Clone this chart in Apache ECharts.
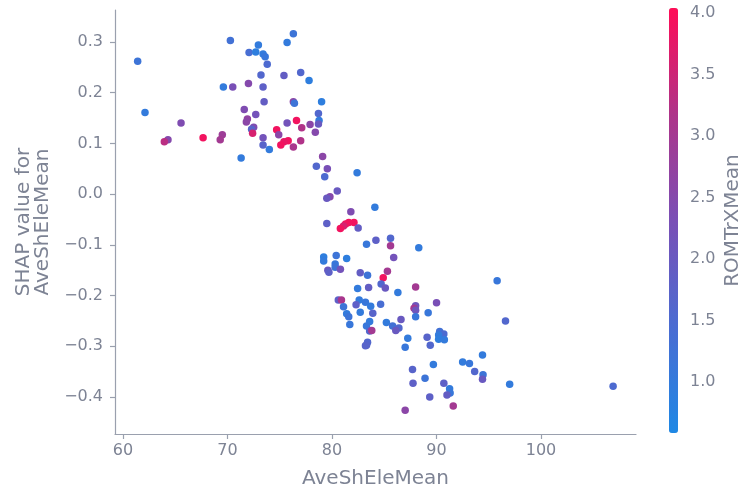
<!DOCTYPE html>
<html><head><meta charset="utf-8">
<script src="https://cdn.jsdelivr.net/npm/echarts@6/dist/echarts.min.js"></script>
<style>html,body{margin:0;padding:0;background:#fff}#c{width:740px;height:491px}</style>
</head><body><div id="c"></div>
<script>
// Feature value (x), SHAP value (y), colour feature value (ROMTrXMean)
const aveShEleMean = [70.27,61.4,69.6,70.5,62.1,71.6,65.55,64.3,63.95,67.66,69.5,69.3,
76.3,75.7,72.95,72.06,72.7,73.4,73.6,73.8,73.2,75.4,77.0,77.8,72.0,73.4,73.5,76.3,76.4,79.0,78.7,72.7,71.9,71.8,78.76,78.7,76.6,75.7,77.1,77.9,72.5,72.3,74.7,72.4,78.4,74.9,73.4,75.8,75.4,75.1,77.0,76.3,73.4,74.0,79.1,71.3,
78.5,79.55,79.3,82.4,80.5,79.8,79.5,84.1,81.8,79.5,82.1,81.6,81.3,81.1,80.8,82.5,83.3,84.2,85.6,85.6,79.2,80.4,81.4,85.9,
79.2,80.3,80.3,79.6,79.7,80.8,82.7,83.4,85.3,84.9,84.7,85.1,82.45,83.5,86.3,80.6,80.9,81.1,82.6,83.2,82.3,83.7,84.65,81.4,81.6,82.7,83.9,81.7,83.6,83.3,83.6,83.8,85.2,85.8,86.6,86.4,86.1,83.4,83.3,83.2,87.25,87.0,
88.3,95.8,88.0,88.0,87.85,88.0,90.0,89.2,88.0,96.6,
89.1,89.4,90.3,90.7,90.2,90.2,90.75,94.4,89.7,92.5,93.15,93.65,94.45,94.4,87.7,87.75,88.9,90.7,91.25,91.3,91.0,89.35,87.0,91.6,
97.0,106.9];
const shapValues = [0.303,0.262,0.211,0.211,0.161,0.167,0.140,0.107,0.103,0.111,0.117,0.107,
0.316,0.299,0.294,0.279,0.280,0.276,0.271,0.256,0.235,0.234,0.240,0.224,0.218,0.211,0.182,0.182,0.179,0.182,0.159,0.157,0.148,0.142,0.145,0.138,0.145,0.140,0.131,0.137,0.132,0.128,0.127,0.120,0.122,0.117,0.111,0.105,0.103,0.097,0.105,0.093,0.097,0.088,0.074,0.071,
0.055,0.050,0.034,0.042,0.006,-0.005,-0.008,-0.026,-0.035,-0.058,-0.056,-0.056,-0.059,-0.063,-0.068,-0.067,-0.099,-0.091,-0.087,-0.102,-0.124,-0.121,-0.127,-0.125,
-0.132,-0.138,-0.144,-0.150,-0.154,-0.148,-0.155,-0.160,-0.152,-0.165,-0.177,-0.185,-0.186,-0.184,-0.194,-0.209,-0.209,-0.222,-0.209,-0.213,-0.218,-0.221,-0.217,-0.236,-0.242,-0.233,-0.235,-0.257,-0.251,-0.260,-0.270,-0.269,-0.253,-0.260,-0.247,-0.264,-0.269,-0.292,-0.298,-0.299,-0.284,-0.302,
-0.106,-0.171,-0.183,-0.220,-0.225,-0.229,-0.214,-0.234,-0.242,-0.250,
-0.282,-0.298,-0.271,-0.276,-0.278,-0.286,-0.287,-0.317,-0.336,-0.331,-0.334,-0.350,-0.356,-0.365,-0.346,-0.373,-0.363,-0.373,-0.384,-0.392,-0.396,-0.400,-0.426,-0.418,
-0.375,-0.379];
const romTrXMean = [1.3,1.2,1.0,2.3,1.0,2.4,2.4,2.5,3.3,3.9,2.9,3.0,
1.2,1.0,1.0,1.4,0.9,1.0,1.1,1.5,1.6,1.9,1.6,0.9,2.5,1.8,1.9,2.6,1.2,0.9,1.6,2.2,2.7,2.6,1.0,2.0,3.9,2.2,3.2,2.6,2.4,1.7,3.9,3.6,2.5,2.6,2.2,3.9,3.8,3.9,3.2,3.1,1.7,1.0,2.6,1.0,
1.6,2.3,1.5,1.0,2.0,2.5,2.0,1.0,2.4,1.8,3.9,3.9,3.9,3.6,3.9,1.9,1.1,1.8,1.6,3.0,0.9,1.2,0.9,2.2,
1.0,1.1,1.2,2.0,1.8,2.2,1.9,1.2,3.0,3.9,1.6,2.0,1.0,1.9,1.0,1.8,3.1,1.2,1.0,1.1,1.8,1.0,1.4,1.0,1.2,1.0,1.7,1.1,1.0,1.1,1.6,3.0,1.0,1.3,2.0,1.6,2.0,1.6,1.7,1.7,1.0,1.1,
1.0,1.1,3.0,2.1,3.0,2.1,2.3,1.1,1.1,1.6,
1.7,1.6,1.3,1.5,1.0,0.9,1.0,1.0,1.0,1.0,1.1,1.6,1.2,2.0,1.7,1.8,1.2,1.8,1.0,1.1,1.9,1.8,2.6,3.0,
1.0,1.5];
const xTicks = [60,70,80,90,100];
const yTicks = [-0.4,-0.3,-0.2,-0.1,0.0,0.1,0.2,0.3];
const cTicks = [1.0,1.5,2.0,2.5,3.0,3.5,4.0];
const xTitle = 'AveShEleMean';
const yTitle = 'SHAP value for\nAveShEleMean';
const cTitle = 'ROMTrXMean';

const points = aveShEleMean.map((x,i)=>[x, shapValues[i], romTrXMean[i]]);
const FONT = 'DejaVu Sans';
const LABEL = '#7d8394';
const AXIS = '#9aa0ae';
const fmt = v => (Math.abs(v)<1e-9 ? '0.0' : v.toFixed(1).replace('-', '\u2212'));

const chart = echarts.init(document.getElementById('c'), null, {renderer:'canvas'});
chart.setOption({
  animation:false,
  backgroundColor:'#fff',
  textStyle:{fontFamily:FONT},
  grid:[
    {left:115, top:10, right:104, bottom:57, containLabel:false, outerBoundsMode:'none'},
    {left:669, top:8, width:9, height:425, containLabel:false, outerBoundsMode:'none'}
  ],
  xAxis:[
    {type:'value', gridIndex:0, min:59.23, max:109.09,
     name:xTitle, nameLocation:'middle', nameGap:35,
     nameTextStyle:{fontSize:20, color:LABEL, fontFamily:FONT},
     axisLine:{show:true, onZero:false, lineStyle:{color:AXIS, width:1.2}},
     axisTick:{show:true, length:5, customValues:xTicks, lineStyle:{color:AXIS, width:1.2}},
     axisLabel:{customValues:xTicks, color:LABEL, fontSize:16, margin:9, fontFamily:FONT},
     splitLine:{show:false}},
    {type:'value', gridIndex:1, min:0, max:1, show:false}
  ],
  yAxis:[
    {type:'value', gridIndex:0, min:-0.473, max:0.363,
     name:yTitle, nameLocation:'middle', nameGap:45, nameRotate:90,
     nameTextStyle:{fontSize:20, color:LABEL, fontFamily:FONT, lineHeight:19},
     axisLine:{show:true, onZero:false, lineStyle:{color:AXIS, width:1.2}},
     axisTick:{show:true, length:5, customValues:yTicks, lineStyle:{color:AXIS, width:1.2}},
     axisLabel:{customValues:yTicks, formatter:fmt, color:LABEL, fontSize:16, margin:12, fontFamily:FONT},
     splitLine:{show:false}},
    {type:'value', gridIndex:1, position:'right', min:0.585, max:4.04,
     name:cTitle, nameLocation:'middle', nameGap:45, nameRotate:90,
     nameTextStyle:{fontSize:20, color:LABEL, fontFamily:FONT},
     axisLine:{show:false},
     axisTick:{show:true, length:4, customValues:cTicks, lineStyle:{color:AXIS, width:1.2}},
     axisLabel:{customValues:cTicks, formatter:v=>v.toFixed(1), color:LABEL, fontSize:16, margin:12, fontFamily:FONT},
     splitLine:{show:false}}
  ],
  visualMap:{
    type:'continuous', min:0.585, max:4.04, dimension:2, seriesIndex:0,
    left:669, top:8, itemWidth:9, itemHeight:425, padding:0,
    calculable:false, text:['',''], showLabel:false,
    inRange:{color:['#1E88E5','#4A6CD2','#7A4FB6','#AE3489','#FF0D57']}
  },
  series:[
    {type:'scatter', xAxisIndex:0, yAxisIndex:0, data:points, symbolSize:7.5,
     itemStyle:{opacity:1}},
    {type:'scatter', xAxisIndex:1, yAxisIndex:1, data:[], silent:true}
  ]
});
</script></body></html>
